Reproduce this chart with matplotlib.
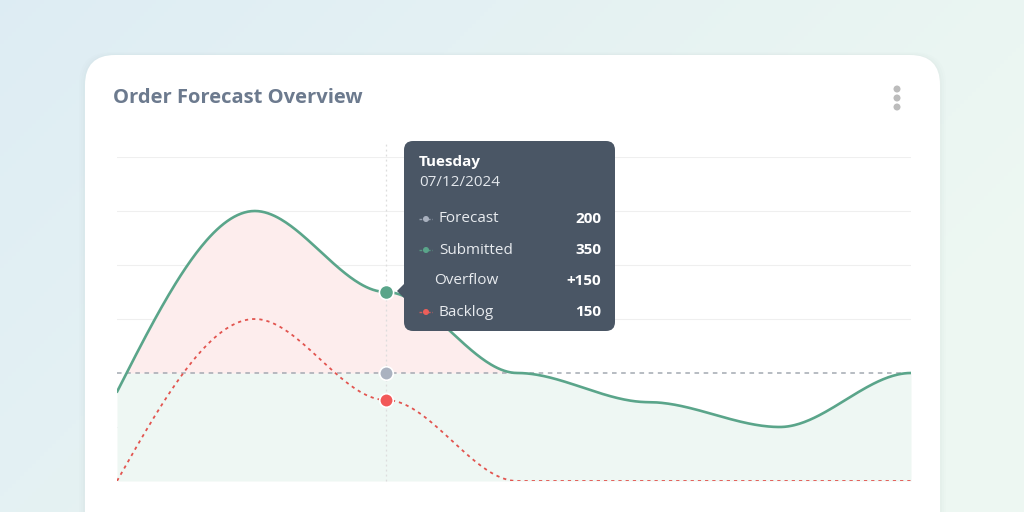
import numpy as np
import matplotlib.pyplot as plt
from matplotlib.patches import FancyBboxPatch, Polygon

plt.rcParams['font.family'] = ['Open Sans', 'DejaVu Sans']

# data: one value per day, Sunday .. Saturday
days = ['Sunday', 'Monday', 'Tuesday', 'Wednesday', 'Thursday', 'Friday', 'Saturday']
forecast = [200, 200, 200, 200, 200, 200, 200]
submitted = [165, 500, 350, 200, 146, 100, 200]
backlog = [0, 300, 150, 0, 0, 0, 0]
grid_values = [100, 300, 400, 500, 600]

sel = 2  # hovered day
tip_title = 'Tuesday'
tip_date = '07/12/2024'
tip_rows = [('Forecast', '200', '#a9b1bf'),
            ('Submitted', '350', '#5aa58a'),
            ('Overflow', '+150', None),
            ('Backlog', '150', '#ec5f5a')]

GREEN = '#5aa58a'
RED = '#e2544f'
GRAY = '#a3a9b2'
X0 = -0.05  # the first day sits right on the left edge


def bump(xs, ys, n=80):
    # hermite curve, flat at every point except the first one
    xs = np.asarray(xs, float)
    ys = np.asarray(ys, float)
    m = np.zeros(len(xs))
    m[0] = 1.5 * (ys[1] - ys[0]) / (xs[1] - xs[0])
    px, py = [], []
    for i in range(len(xs) - 1):
        h = xs[i + 1] - xs[i]
        t = np.linspace(0, 1, n, endpoint=False)
        h00 = 2 * t**3 - 3 * t**2 + 1
        h10 = t**3 - 2 * t**2 + t
        h01 = -2 * t**3 + 3 * t**2
        h11 = t**3 - t**2
        px.append(xs[i] + t * h)
        py.append(h00 * ys[i] + h10 * h * m[i] + h01 * ys[i + 1] + h11 * h * m[i + 1])
    px.append([xs[-1]])
    py.append([ys[-1]])
    return np.concatenate(px), np.concatenate(py)


fig = plt.figure(figsize=(10.24, 5.12), dpi=100)

# background + card, drawn in pixel coordinates
bg = fig.add_axes([0, 0, 1, 1], zorder=0)
bg.set_xlim(0, 1024)
bg.set_ylim(512, 0)
bg.axis('off')
gx = np.linspace(0, 1, 256)
gy = np.linspace(0, 1, 128)
GX, GY = np.meshgrid(gx, gy)
c1 = np.array([0.870, 0.928, 0.955])
c2 = np.array([0.932, 0.972, 0.950])
w = np.clip(0.8 * GX + 0.4 * GY, 0, 1)[..., None]
img = c1 * (1 - w) + c2 * w
bg.imshow(img, extent=(0, 1024, 512, 0), aspect='auto', zorder=0)
for k, a in enumerate([0.02, 0.015, 0.01]):
    bg.add_patch(FancyBboxPatch((85 - 2 - 2 * k, 55 - 1 - k), 855 + 4 + 4 * k, 520,
                                boxstyle='round,pad=0,rounding_size=32',
                                fc='#6a8a80', ec='none', alpha=a, zorder=1))
bg.add_patch(FancyBboxPatch((85, 55), 855, 520, boxstyle='round,pad=0,rounding_size=30',
                            fc='white', ec='none', zorder=2))
bg.text(113, 98, 'Order Forecast Overview', fontsize=14.5, fontweight='bold',
        color='#6c7a8e', va='center', ha='left', zorder=3)
for yy in (89, 98, 107):
    bg.add_patch(plt.Circle((897, yy), 2.8, color='#bcbcbc', zorder=3))

# chart
ax = fig.add_axes([117 / 1024, (512 - 481) / 512, 794 / 1024, (481 - 157) / 512], zorder=1)
ax.patch.set_alpha(0)
x = np.arange(len(days), dtype=float)
x[0] = X0
ax.set_xlim(X0, len(days) - 1)
ax.set_ylim(0, 600)
for s in ax.spines.values():
    s.set_visible(False)
ax.set_xticks([])
ax.set_yticks([])
for g in grid_values:
    ax.axhline(g, color='#efefef', lw=0.8, zorder=1)

sx, sy = bump(x, submitted)
bx, by = bump(x, backlog)
by = np.maximum(by, 0)
fc = np.interp(sx, x, forecast)

ax.fill_between(sx, 0, np.minimum(sy, fc), color='#eef7f3', lw=0, zorder=2)
ax.fill_between(sx, fc, sy, where=sy > fc, interpolate=True, color='#fdeded', lw=0, zorder=2)

ax.plot(x, forecast, color=GRAY, lw=1.1, dashes=(3, 3), zorder=3)
ax.plot(bx, by, color=RED, lw=1.3, dashes=(1.8, 2.2), zorder=4)
ax.plot(sx, sy, color=GREEN, lw=1.9, zorder=5, solid_capstyle='round')

ax.plot([x[sel], x[sel]], [0, 625], color='#dddddd', lw=0.9, dashes=(1.5, 2.5),
        zorder=2.5, clip_on=False)
ax.scatter([x[sel]], [forecast[sel]], s=95, color='#aab2c0', edgecolor='white', lw=1.2, zorder=6)
ax.scatter([x[sel]], [backlog[sel]], s=95, color='#f25858', edgecolor='white', lw=1.2, zorder=6)
ax.scatter([x[sel]], [submitted[sel]], s=105, color=GREEN, edgecolor='white', lw=1.2, zorder=7)

# tooltip on top
ov = fig.add_axes([0, 0, 1, 1], zorder=3)
ov.set_xlim(0, 1024)
ov.set_ylim(512, 0)
ov.axis('off')
TIP = '#4a5665'
ov.add_patch(FancyBboxPatch((404, 141), 211, 190, boxstyle='round,pad=0,rounding_size=9',
                            fc=TIP, ec='none'))
ov.add_patch(Polygon([(397, 291), (405, 283), (405, 299)], closed=True, fc=TIP, ec='none'))
ov.text(419, 162, tip_title, color='white', fontsize=11, fontweight='bold', va='center')
ov.text(419, 183, tip_date, color='#e3e7ec', fontsize=11, va='center')
row_y = [219, 250, 281, 312]
for (lab, val, col), yy in zip(tip_rows, row_y):
    if col is not None:
        ov.plot([419, 432], [yy, yy], color=col, lw=1, alpha=0.8, dashes=(2, 1))
        ov.add_patch(plt.Circle((426, yy), 2.3, color=col))
        ov.text(439, yy, lab, color='#e8ebef', fontsize=11, va='center')
    else:
        ov.text(434, yy, lab, color='#e8ebef', fontsize=11, va='center')
    ov.text(601, yy, val, color='white', fontsize=11, fontweight='bold', va='center', ha='right')

fig.savefig('out.png', dpi=100)
